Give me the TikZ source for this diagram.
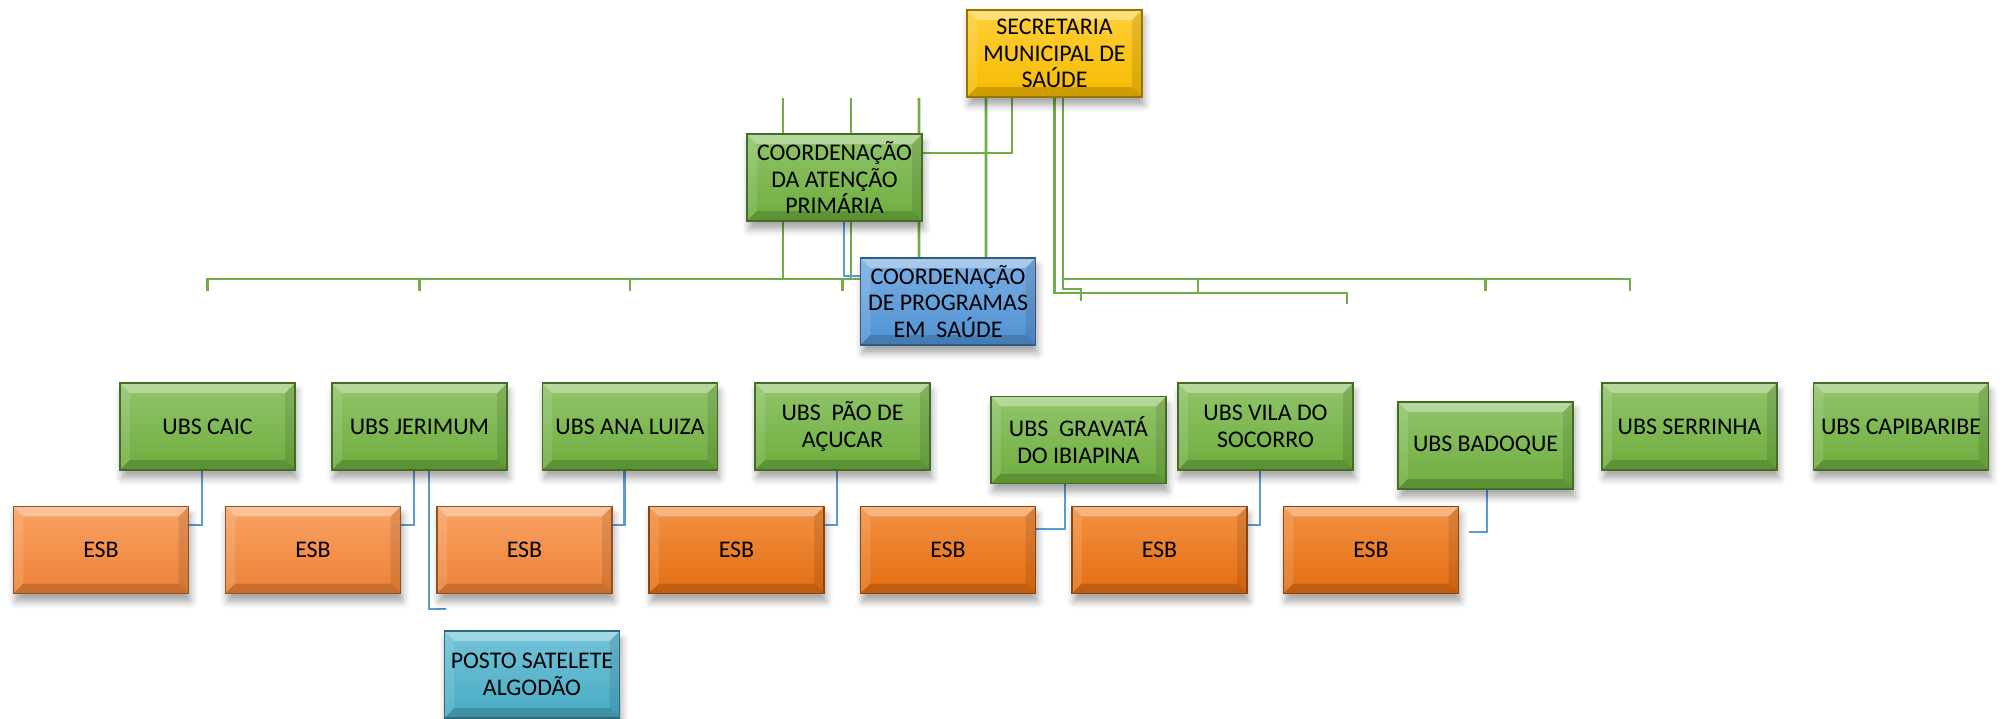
\documentclass[tikz,border=0pt]{standalone}
\usepackage{fontspec}
\setmainfont{Carlito}
\usetikzlibrary{shadows.blur,backgrounds}

\definecolor{secgold}{RGB}{255,194,0}
\definecolor{ubsgreen}{RGB}{114,180,64}
\definecolor{cpblue}{RGB}{84,152,220}
\definecolor{esblight}{RGB}{247,135,56}
\definecolor{esbdark}{RGB}{238,114,16}
\definecolor{postocyan}{RGB}{75,178,205}
\definecolor{linkgreen}{RGB}{112,173,71}
\definecolor{linkblue}{RGB}{91,155,213}

\tikzset{
  orgbox/.style={rectangle, minimum width=1.75cm, minimum height=0.87cm,
    inner sep=0.5pt, align=center, font=\fontsize{6.8}{7.6}\selectfont,
    top color=#1!78!white, bottom color=#1!96!black, draw=#1!60!black, line width=0.4pt,
    blur shadow={shadow xshift=0.2mm, shadow yshift=-0.8mm,
      shadow blur radius=0.7mm, shadow opacity=35},
    bevel},
  bevel/.style={path picture={
    \fill[white,opacity=.35] (path picture bounding box.north west)
      -- (path picture bounding box.north east) -- ++(-1mm,-1mm)
      -- ([shift={(1mm,-1mm)}]path picture bounding box.north west) -- cycle;
    \fill[white,opacity=.12] (path picture bounding box.north west)
      -- ([shift={(1mm,-1mm)}]path picture bounding box.north west)
      -- ([shift={(1mm,1mm)}]path picture bounding box.south west)
      -- (path picture bounding box.south west) -- cycle;
    \fill[black,opacity=.10] (path picture bounding box.north east)
      -- ([shift={(-1mm,-1mm)}]path picture bounding box.north east)
      -- ([shift={(-1mm,1mm)}]path picture bounding box.south east)
      -- (path picture bounding box.south east) -- cycle;
    \fill[black,opacity=.16] (path picture bounding box.south west)
      -- (path picture bounding box.south east) -- ++(-1mm,1mm)
      -- ([shift={(1mm,1mm)}]path picture bounding box.south west) -- cycle;
  }},
  greenlink/.style={draw=linkgreen, line width=0.8pt},
  bluelink/.style={draw=linkblue, line width=0.7pt},
}

\begin{document}
\begin{tikzpicture}[x=0.01cm,y=-0.01cm]
\useasboundingbox (0,0) rectangle (2002,719);

% The coordination boxes
\node[orgbox=secgold] (sec) at (1054.5,53.5) {SECRETARIA\\MUNICIPAL DE\\SAÚDE};
\node[orgbox=ubsgreen] (cap) at (834.5,177.5) {COORDENAÇÃO\\DA ATENÇÃO\\PRIMÁRIA};
\node[orgbox=cpblue] (cp) at (948,301.5) {COORDENAÇÃO\\DE PROGRAMAS\\EM~~SAÚDE};

% The UBS row
\node[orgbox=ubsgreen] (caic) at (207.5,426.5) {UBS CAIC};
\node[orgbox=ubsgreen] (jerimum) at (419.5,426.5) {UBS JERIMUM};
\node[orgbox=ubsgreen] (ana) at (630,426.5) {UBS ANA LUIZA};
\node[orgbox=ubsgreen] (pao) at (842.5,426.5) {UBS~~PÃO DE\\AÇUCAR};
\node[orgbox=ubsgreen] (gravata) at (1078.5,440) {UBS~~GRAVATÁ\\DO IBIAPINA};
\node[orgbox=ubsgreen] (vila) at (1265.5,426.5) {UBS VILA DO\\SOCORRO};
\node[orgbox=ubsgreen] (badoque) at (1485.5,445.5) {UBS BADOQUE};
\node[orgbox=ubsgreen] (serrinha) at (1689.5,426.5) {UBS SERRINHA};
\node[orgbox=ubsgreen] (capibaribe) at (1901,426.5) {UBS CAPIBARIBE};

% The ESB row
\foreach \i/\xx/\col in {1/101/esblight,2/313/esblight,3/524.5/esblight,
  4/736.5/esbdark,5/948/esbdark,6/1159.5/esbdark,7/1371/esbdark}
  \node[orgbox=\col] (esb\i) at (\xx,550) {ESB};

\node[orgbox=postocyan] (posto) at (532,674.5) {POSTO SATELETE\\ALGODÃO};

% Free ends of the connectors
\coordinate (stub1) at (783,98);
\coordinate (stub2) at (851,98);
\coordinate (stub3) at (919,98);
\coordinate (bus) at ([yshift=0.225cm]cp.west);
\coordinate (endA) at (1630,291);
\coordinate (endB) at (1081,301);
\coordinate (endC) at (1347,304);
\coordinate (badend) at (1469,532);
\coordinate (postoend) at (446,609);

\begin{pgfonlayer}{background}
% Green lines of the upper levels
\draw[greenlink] (stub1) -- (stub1 |- bus);
\draw[greenlink] (stub2) -- (stub2 |- bus);
\draw[greenlink] (stub3) -- ([xshift=-0.29cm]cp.north);
\draw[greenlink] ([xshift=-0.685cm]sec.south) -- ([xshift=0.38cm]cp.north);
\draw[greenlink] ([xshift=-0.425cm]sec.south) |- ([yshift=0.245cm]cap.east);
\draw[greenlink] (caic.north |- 0,291) |- (bus);
\foreach \u in {jerimum,ana,pao}
  \draw[greenlink] (\u.north |- bus) -- ++(0,12);

% Green lines on the right
\draw[greenlink] ([xshift=0.085cm]sec.south) |- (endA |- 0,279) -- (endA);
\draw[greenlink] ([xshift=0.085cm]sec.south |- 0,279) -- ++(0,10) -| (endB);
\draw[greenlink] (sec.south) |- (endC |- 0,293) -- (endC);
\draw[greenlink] (1198,279) -- (1198,293);
\draw[greenlink] (badoque.north |- 0,279) -- ++(0,12);

% Blue lines to the ESB
\draw[bluelink] ([xshift=0.095cm]cap.south) |- ([yshift=0.255cm]cp.west);
\foreach \u/\e in {caic/esb1,jerimum/esb2,ana/esb3,pao/esb4,vila/esb6}
  \draw[bluelink] ([xshift=-0.055cm]\u.south) |- ([yshift=0.25cm]\e.east);
\draw[bluelink] ([xshift=-0.135cm]gravata.south) |- ([yshift=0.21cm]esb5.east);
\draw[bluelink] ([xshift=0.015cm]badoque.south) |- (badend);
\draw[bluelink] ([xshift=0.095cm]jerimum.south) |- (postoend);
\end{pgfonlayer}

\end{tikzpicture}
\end{document}
